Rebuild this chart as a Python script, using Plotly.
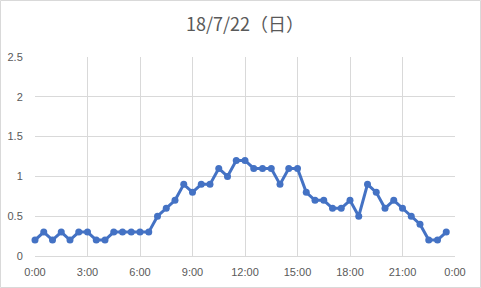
import plotly.graph_objects as go

W, H = 481, 288
ML, MR, MT, MB = 35, 26, 57, 32

title = "18/7/22（日）"
hours = [i * 0.5 for i in range(48)]
values = [0.2, 0.3, 0.2, 0.3, 0.2, 0.3, 0.3, 0.2, 0.2, 0.3, 0.3, 0.3,
          0.3, 0.3, 0.5, 0.6, 0.7, 0.9, 0.8, 0.9, 0.9, 1.1, 1.0, 1.2,
          1.2, 1.1, 1.1, 1.1, 0.9, 1.1, 1.1, 0.8, 0.7, 0.7, 0.6, 0.6,
          0.7, 0.5, 0.9, 0.8, 0.6, 0.7, 0.6, 0.5, 0.4, 0.2, 0.2, 0.3]
x_tickvals = [0, 3, 6, 9, 12, 15, 18, 21, 24]
x_ticktext = ["0:00", "3:00", "6:00", "9:00", "12:00", "15:00", "18:00", "21:00", "0:00"]
y_tickvals = [0, 0.5, 1, 1.5, 2, 2.5]
y_ticktext = ["0", "0.5", "1", "1.5", "2", "2.5"]

color = "#4472C4"
grey_text = "#595959"
grid = "#D9D9D9"

fig = go.Figure(go.Scatter(
    x=hours, y=values, mode="lines+markers",
    line=dict(color=color, width=3),
    marker=dict(color=color, size=7),
    cliponaxis=False,
    hoverinfo="skip",
))

pw = W - ML - MR
ph = H - MT - MB
fig.add_shape(type="rect", xref="paper", yref="paper",
              x0=(0.5 - ML) / pw, x1=(W - 0.5 - ML) / pw,
              y0=-(MB - 0.5) / ph, y1=1 + (MT - 0.5) / ph,
              line=dict(color="#D9D9D9", width=1), layer="below")

fig.update_layout(
    width=W, height=H,
    margin=dict(l=ML, r=MR, t=MT, b=MB, autoexpand=False),
    paper_bgcolor="white", plot_bgcolor="white",
    showlegend=False,
    title=dict(text=title, x=0.5, xanchor="center", xref="paper",
               y=1 - 25 / H, yanchor="middle", yref="container",
               font=dict(family="Noto Sans CJK JP", size=18, color=grey_text)),
    font=dict(family="Liberation Sans", size=11, color=grey_text),
    xaxis=dict(range=[0, 24], tickvals=x_tickvals, ticktext=x_ticktext,
               automargin=False,
               showgrid=True, gridcolor=grid, gridwidth=1,
               showline=True, linecolor=grid, linewidth=1,
               zeroline=False, ticks="outside", ticklen=6, tickcolor="rgba(0,0,0,0)",
               tickfont=dict(size=11, color=grey_text)),
    yaxis=dict(range=[0, 2.5], tickvals=y_tickvals, ticktext=y_ticktext,
               automargin=False,
               showgrid=True, gridcolor=grid, gridwidth=1,
               showline=False, zeroline=False,
               ticks="outside", ticklen=9, tickcolor="rgba(0,0,0,0)",
               tickfont=dict(size=11, color=grey_text)),
)

fig.write_html("out.html")
